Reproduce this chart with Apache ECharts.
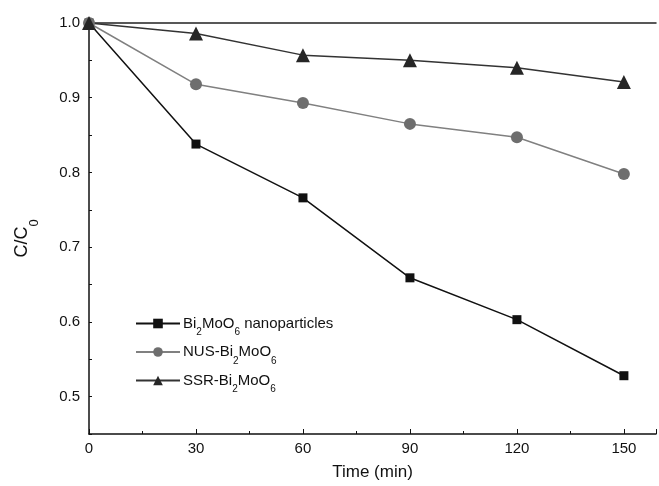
<!DOCTYPE html>
<html><head><meta charset="utf-8">
<script src="https://cdn.jsdelivr.net/npm/echarts@6/dist/echarts.min.js"></script>
<style>html,body{margin:0;padding:0;background:#fff}#c{width:659px;height:486px}</style>
</head><body><div id="c"></div>
<script>
const times = [0, 30, 60, 90, 120, 150];
const nanoparticles = [1.0, 0.838, 0.766, 0.659, 0.603, 0.528];
const nus = [1.0, 0.918, 0.893, 0.865, 0.847, 0.798];
const ssr = [1.0, 0.986, 0.957, 0.950, 0.940, 0.921];
const xTicks = [0, 30, 60, 90, 120, 150];
const yTicks = [0.5, 0.6, 0.7, 0.8, 0.9, 1.0];
const names = ['Bi2MoO6 nanoparticles', 'NUS-Bi2MoO6', 'SSR-Bi2MoO6'];

const pair = (xs, ys) => xs.map((x, i) => [x, ys[i]]);
const font = 'Arial, "Liberation Sans", sans-serif';
const chart = echarts.init(document.getElementById('c'));
const sub = {n:{fontSize:15,fontFamily:font,color:'#111',lineHeight:18}, s:{fontSize:10,fontFamily:font,color:'#111',lineHeight:18,verticalAlign:'bottom',padding:[0,0,-5,0]}};
chart.setOption({
  animation:false,
  grid:{left:89,top:23,right:0,bottom:52},
  xAxis:[{type:'value',min:0,max:159,interval:30,
    name:'Time (min)',nameLocation:'middle',nameGap:30,
    nameTextStyle:{fontSize:17,fontFamily:font,color:'#111'},
    axisLine:{lineStyle:{color:'#111',width:1.5}},
    axisTick:{inside:true,length:5,lineStyle:{color:'#111'}},
    minorTick:{show:true,splitNumber:2,length:3,lineStyle:{color:'#111'}},
    axisLabel:{fontSize:15,fontFamily:font,color:'#111',margin:7,
      formatter:v=>xTicks.includes(v)?String(v):''},
    splitLine:{show:false}},
    {type:'value',position:'top',min:0,max:159,
    axisLine:{show:true,onZero:false,lineStyle:{color:'#222',width:1.5}},
    axisTick:{show:false},axisLabel:{show:false},splitLine:{show:false}}],
  yAxis:{type:'value',min:0.45,max:1.0,interval:0.05,
    name:'{n|C/C}{s|0}',nameLocation:'middle',nameGap:58,nameRotate:90,
    nameTextStyle:{rich:{n:{fontSize:18,fontFamily:font,color:'#111'},s:{fontSize:13,fontFamily:font,color:'#111',verticalAlign:'bottom',padding:[0,0,-10,0]}},padding:[0,20,0,0]},
    axisLine:{lineStyle:{color:'#111',width:1.5}},
    axisTick:{inside:true,length:3,lineStyle:{color:'#111'}},
    axisLabel:{fontSize:15,fontFamily:font,color:'#111',margin:9,
      formatter:v=>{const r=Math.round(v*100)/100;return yTicks.some(t=>Math.abs(t-r)<1e-9)?r.toFixed(1):'';}},
    splitLine:{show:false}},
  legend:{left:130,top:311,orient:'vertical',itemWidth:44,itemHeight:12,itemGap:7,
    data:names,
    formatter:function(n){
      if(n===names[0]) return '{n|Bi}{s|2}{n|MoO}{s|6}{n| nanoparticles}';
      if(n===names[1]) return '{n|NUS-Bi}{s|2}{n|MoO}{s|6}';
      return '{n|SSR-Bi}{s|2}{n|MoO}{s|6}';
    },
    textStyle:{rich:sub,padding:[0,0,0,-2]}},
  series:[
    {name:names[0],type:'line',data:pair(times,nanoparticles),symbol:'rect',symbolSize:9,
      lineStyle:{color:'#111',width:1.5},itemStyle:{color:'#111'}},
    {name:names[1],type:'line',data:pair(times,nus),symbol:'circle',symbolSize:12,
      lineStyle:{color:'#808080',width:1.5},itemStyle:{color:'#6e6e6e'}},
    {name:names[2],type:'line',data:pair(times,ssr),symbol:'triangle',symbolSize:14,
      lineStyle:{color:'#333',width:1.5},itemStyle:{color:'#262626'}}
  ]
});
</script></body></html>
